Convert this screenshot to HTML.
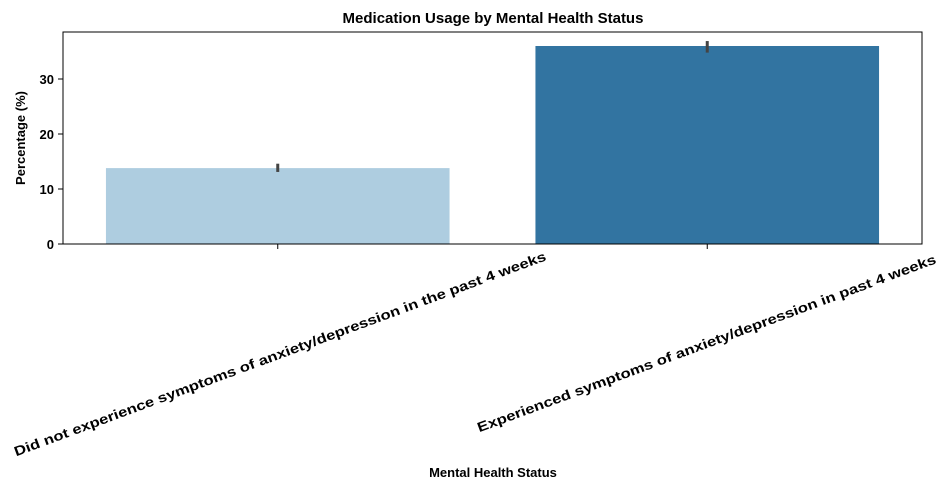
<!DOCTYPE html>
<html><head><meta charset="utf-8"><style>
body{margin:0;background:#fff;}
svg{font-family:"Liberation Sans",sans-serif;font-weight:bold;}
</style></head><body>
<svg id="chart" width="947" height="490">
<text x="493" y="23" text-anchor="middle" font-size="15">Medication Usage by Mental Health Status</text>
<text x="493" y="477" text-anchor="middle" font-size="13">Mental Health Status</text>
<text transform="translate(25,138) rotate(-90)" text-anchor="middle" font-size="13">Percentage (%)</text>
<g id="plot"></g>
</svg>
<script>
const categories=["Did not experience symptoms of anxiety/depression in the past 4 weeks","Experienced symptoms of anxiety/depression in past 4 weeks"];
const values=[13.8,36.0];
const errLow=[13.1,34.8];
const errHigh=[14.6,36.9];
const colors=["#aecde0","#3274a1"];
const yTicks=[0,10,20,30];
const L=63,R=922,T=32,B=244;
const ymax=(B-T)/5.5;
const y=v=>B-v/ymax*(B-T);
const band=(R-L)/categories.length;
const xc=i=>L+band*(i+0.5);
const labelLen=[566,488];
const labelEnd=[[547,260],[937,263]];
const ns="http://www.w3.org/2000/svg";
const g=document.getElementById('plot');
function mk(t,a){const e=document.createElementNS(ns,t);for(const k in a)e.setAttribute(k,a[k]);g.appendChild(e);return e;}
values.forEach((v,i)=>{
 const w=band*0.8;
 const r=mk('rect',{x:xc(i)-w/2,y:y(v),width:w,height:B-y(v),fill:colors[i]});
 
 
 const e=mk('line',{x1:xc(i),x2:xc(i),y1:y(errLow[i]),y2:y(errHigh[i]),stroke:'#444','stroke-width':3});
 
 
 const tk=mk('line',{x1:xc(i),x2:xc(i),y1:B,y2:B+5,stroke:'#000'});
 
 
 const t=mk('text',{x:0,y:0,'text-anchor':'end','font-size':13.5,textLength:labelLen[i],lengthAdjust:'spacingAndGlyphs',transform:`translate(${labelEnd[i][0]},${labelEnd[i][1]}) rotate(-20.3)`});
 t.textContent=categories[i];
 
 
});
yTicks.forEach(v=>{
 const l=mk('line',{x1:L-5,x2:L,y1:y(v),y2:y(v),stroke:'#000'});
 
 
 const t=mk('text',{x:L-9,y:y(v)+5,'text-anchor':'end','font-size':13});
 t.textContent=v;
 
 
});
const f=mk('rect',{x:L,y:T,width:R-L,height:B-T,fill:'none',stroke:'#000','stroke-width':1});


</script>
</body></html>
